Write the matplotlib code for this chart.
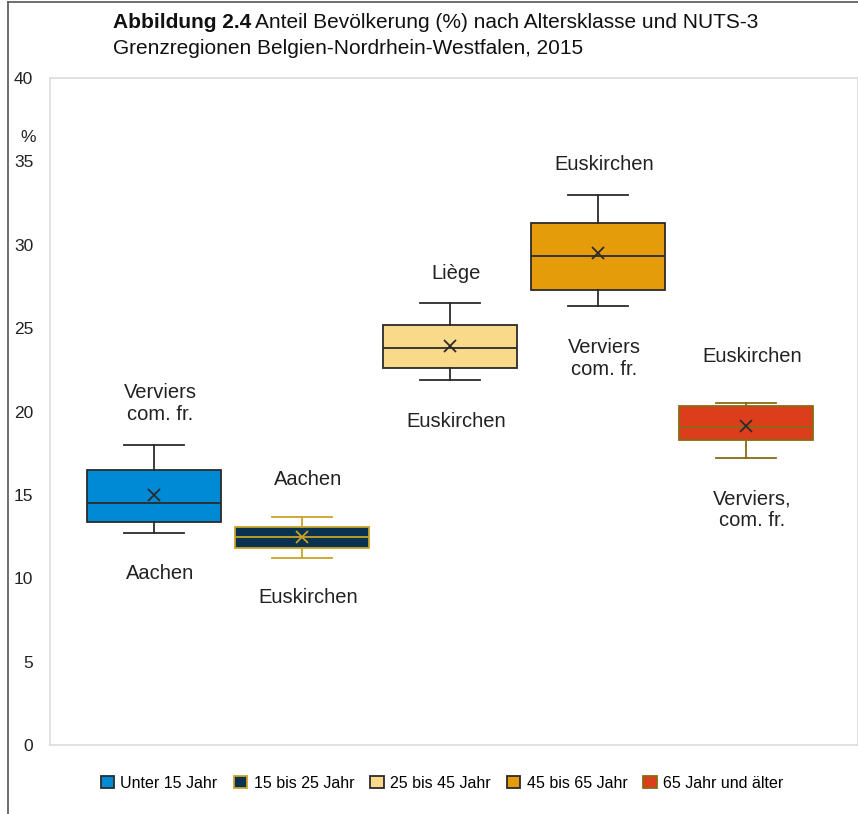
import matplotlib
matplotlib.use('Agg')
import matplotlib.pyplot as plt
from matplotlib.patches import Patch
from matplotlib.lines import Line2D

plt.rcParams['font.family'] = ['Liberation Sans', 'DejaVu Sans']

# --- data ---
groups = ['Unter 15 Jahr', '15 bis 25 Jahr', '25 bis 45 Jahr', '45 bis 65 Jahr', '65 Jahr und älter']
whislo = [12.7, 11.2, 21.9, 26.3, 17.2]
q1     = [13.35, 11.8, 22.6, 27.3, 18.3]
med    = [14.5, 12.45, 23.8, 29.35, 19.1]
q3     = [16.5, 13.05, 25.2, 31.3, 20.3]
whishi = [18.0, 13.7, 26.5, 33.0, 20.5]
means  = [15.0, 12.45, 23.95, 29.5, 19.15]

top_labels    = ['Verviers\ncom. fr.', 'Aachen', 'Liège', 'Euskirchen', 'Euskirchen']
top_label_y   = [20.5, 15.9, 28.3, 34.8, 23.3]
bottom_labels = ['Aachen', 'Euskirchen', 'Euskirchen', 'Verviers\ncom. fr.', 'Verviers,\ncom. fr.']
bottom_label_y = [10.3, 8.85, 19.4, 23.2, 14.1]

fills = ['#0089D4', '#08324F', '#F9D98A', '#E59C0B', '#DC3E1C']
edges = ['#2b2b2b', '#C9A227', '#2b2b2b', '#2b2b2b', '#8A6A12']
mean_colors = ['#2b2b2b', '#C9A227', '#2b2b2b', '#2b2b2b', '#2b2b2b']

fig = plt.figure(figsize=(8.58, 8.14), dpi=100)
ax = fig.add_axes([50 / 858, 1 - 745 / 814, 808 / 858, 667 / 814])

positions = list(range(len(groups)))
for i in range(len(groups)):
    s = dict(whislo=whislo[i], q1=q1[i], med=med[i], q3=q3[i],
             whishi=whishi[i], mean=means[i], fliers=[])
    ec = edges[i]
    ax.bxp([s], positions=[positions[i]], widths=0.9, patch_artist=True,
           showmeans=True, showfliers=False,
           boxprops=dict(facecolor=fills[i], edgecolor=ec, linewidth=1.3),
           medianprops=dict(color=ec, linewidth=1.3),
           whiskerprops=dict(color=ec, linewidth=1.3),
           capprops=dict(color=ec, linewidth=1.3),
           capwidths=0.4,
           meanprops=dict(marker='x', markeredgecolor=mean_colors[i], markersize=9,
                          markeredgewidth=1.3))

for i in range(len(groups)):
    ax.text(positions[i] + 0.04, top_label_y[i], top_labels[i], ha='center',
            va='center', fontsize=14.5, color='#222222', linespacing=1.2)
    ax.text(positions[i] + 0.04, bottom_label_y[i], bottom_labels[i], ha='center',
            va='center', fontsize=14.5, color='#222222', linespacing=1.2)

ax.set_xlim(-0.703, 4.757)
ax.set_ylim(0, 40)
ax.set_yticks(range(0, 41, 5))
ax.set_xticks([])
ax.tick_params(axis='y', length=0, pad=12, labelsize=12.5, labelcolor='#222222')
for sp in ax.spines.values():
    sp.set_color('#dcdcdc')
    sp.set_linewidth(1.2)

fig.text(28 / 858, 1 - 138 / 814, '%', ha='center', va='center', fontsize=12.5, color='#222222')

t = fig.text(113 / 858, 1 - 23 / 814, 'Abbildung 2.4', ha='left', va='center',
             fontsize=15, fontweight='bold', color='#111111')
fig.canvas.draw()
bb = t.get_window_extent()
fig.text(bb.x1 / 858 + 0.004, 1 - 23 / 814,
         'Anteil Bevölkerung (%) nach Altersklasse und NUTS-3',
         ha='left', va='center', fontsize=15, color='#111111')
fig.text(113 / 858, 1 - 48 / 814, 'Grenzregionen Belgien-Nordrhein-Westfalen, 2015',
         ha='left', va='center', fontsize=15, color='#111111')

handles = [Patch(facecolor=fills[i], edgecolor=edges[i], linewidth=1.3) for i in range(len(groups))]
fig.legend(handles, groups, loc='center', bbox_to_anchor=(442 / 858, 1 - 783 / 814),
           ncol=5, frameon=False, fontsize=11.5, handlelength=0.85, handleheight=0.85,
           handletextpad=0.4, columnspacing=1.0)

# outer border lines
fig.add_artist(Line2D([8 / 858, 8 / 858], [0, 1 - 2 / 814], color='#555555', linewidth=1.2,
                      transform=fig.transFigure))
fig.add_artist(Line2D([8 / 858, 1], [1 - 2 / 814, 1 - 2 / 814], color='#555555', linewidth=1.2,
                      transform=fig.transFigure))

fig.savefig('out.png', dpi=100)
